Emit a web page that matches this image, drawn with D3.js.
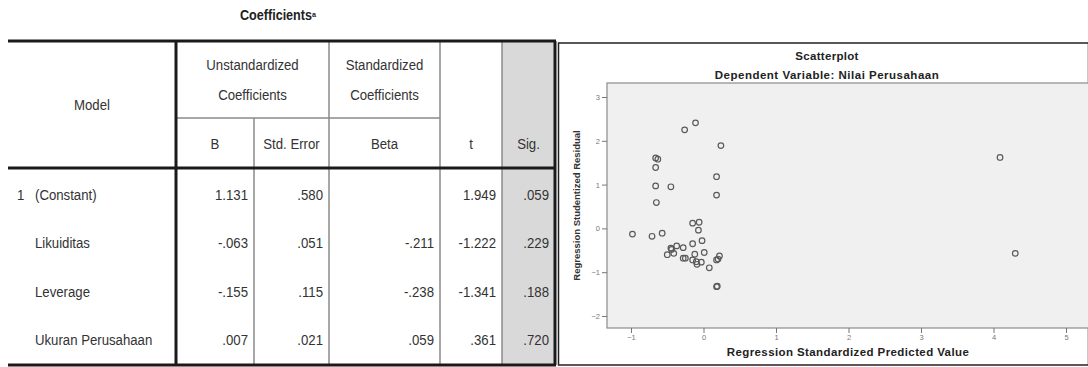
<!DOCTYPE html>
<html>
<head>
<meta charset="utf-8">
<script src="https://cdn.jsdelivr.net/npm/d3@7"></script>
<style>
  body { margin: 0; background: #fff; }
  svg { display: block; }
</style>
</head>
<body>
<div id="chart"></div>
<script>
// Table values
const modelRows = ["(Constant)", "Likuiditas", "Leverage", "Ukuran Perusahaan"];
const colB = ["1.131", "-.063", "-.155", ".007"];
const colStdErr = [".580", ".051", ".115", ".021"];
const colBeta = ["", "-.211", "-.238", ".059"];
const colT = ["1.949", "-1.222", "-1.341", ".361"];
const colSig = [".059", ".229", ".188", ".720"];

// Scatter values (standardized predicted, studentized residual)
const predicted = [-0.11, -0.26, 0.24, -0.66, -0.63, -0.66, 0.18, -0.66, -0.45, 0.18, -0.65, 4.09,
  -0.98, -0.71, -0.57, -0.15, -0.06, -0.07, -0.15, -0.02, -0.37, -0.45, -0.44, -0.28, -0.50, -0.41,
  -0.28, -0.25, -0.12, 0.01, -0.15, -0.10, -0.03, -0.09, 0.08, 0.22, 0.18, 0.20, 0.18, 0.19, 4.30];
const residual = [2.41, 2.25, 1.89, 1.61, 1.58, 1.39, 1.18, 0.97, 0.95, 0.76, 0.59, 1.62,
  -0.13, -0.18, -0.11, 0.12, 0.14, -0.04, -0.35, -0.28, -0.40, -0.45, -0.48, -0.44, -0.60, -0.57,
  -0.68, -0.68, -0.59, -0.55, -0.72, -0.76, -0.77, -0.82, -0.90, -0.63, -0.72, -0.70, -1.33, -1.32, -0.57];
const xTicks = [-1, 0, 1, 2, 3, 4, 5];
const yTicks = [-2, -1, 0, 1, 2, 3];

const W = 1088, H = 367;
const font = "'Liberation Sans', Arial, sans-serif";

const svg = d3.select("#chart").append("svg")
  .attr("width", W)
  .attr("height", H);

// ---------- Coefficients table ----------
const tbl = svg.append("g").attr("font-family", font).attr("fill", "#333");

// column edges and row positions
const cx = { left: 8, model: 176, b: 254, se: 329, beta: 440, t: 502, right: 555 };
const tTop = 41, midH = 118, headBot = 168, tBottom = 365;
const rowBase = [200, 248, 297, 345];

// SPSS tables use a condensed face: squeeze regular glyphs horizontally
const cell = (sel, xf, yf, anchor) => sel
  .attr("transform", (d, i) => `translate(${xf(d, i)},${yf(d, i)}) scale(0.88,1)`)
  .attr("text-anchor", anchor)
  .attr("font-size", "15px");

// Sig. column shading
tbl.append("rect")
  .attr("x", cx.t).attr("y", tTop)
  .attr("width", cx.right - cx.t).attr("height", tBottom - tTop)
  .attr("fill", "#d9d9d9");

tbl.append("text")
  .attr("transform", "translate(278,20) scale(0.9,1)")
  .attr("text-anchor", "middle")
  .attr("font-weight", "bold")
  .attr("font-size", "14px")
  .attr("fill", "#222")
  .text("Coefficients")
  .append("tspan")
  .attr("font-size", "8px")
  .attr("dy", -3)
  .text("a");

// thin grey lines
const thin = [
  [cx.b, midH, cx.b, tBottom],
  [cx.se, tTop, cx.se, tBottom],
  [cx.beta, tTop, cx.beta, tBottom],
  [cx.t, tTop, cx.t, tBottom],
  [cx.model, midH, cx.beta, midH]
];
tbl.selectAll(".thin").data(thin).enter().append("line")
  .attr("x1", d => d[0]).attr("y1", d => d[1])
  .attr("x2", d => d[2]).attr("y2", d => d[3])
  .attr("stroke", "#8a8a8a").attr("stroke-width", 1.5);

// thick dark lines
const thick = [
  [cx.left, tTop, cx.right + 1, tTop],
  [cx.left, headBot, cx.right, headBot],
  [cx.left, tBottom, cx.right + 1, tBottom],
  [cx.model, tTop, cx.model, tBottom],
  [cx.right, tTop, cx.right, tBottom]
];
tbl.selectAll(".thick").data(thick).enter().append("line")
  .attr("x1", d => d[0]).attr("y1", d => d[1])
  .attr("x2", d => d[2]).attr("y2", d => d[3])
  .attr("stroke", "#1a1a1a").attr("stroke-width", 3);

// header text
const hdr = [
  ["Model", (cx.left + cx.model) / 2, 110],
  ["Unstandardized", (cx.model + cx.se) / 2, 70],
  ["Coefficients", (cx.model + cx.se) / 2, 100],
  ["Standardized", (cx.se + cx.beta) / 2, 70],
  ["Coefficients", (cx.se + cx.beta) / 2, 100],
  ["B", (cx.model + cx.b) / 2, 149],
  ["Std. Error", (cx.b + cx.se) / 2, 149],
  ["Beta", (cx.se + cx.beta) / 2, 149],
  ["t", (cx.beta + cx.t) / 2, 149],
  ["Sig.", (cx.t + cx.right) / 2, 149]
];
cell(tbl.selectAll(".hdr").data(hdr).enter().append("text"), d => d[1], d => d[2], "middle")
  .text(d => d[0]);

// body
cell(tbl.selectAll(".one").data(["1"]).enter().append("text"), () => 17, () => rowBase[0], "start")
  .text(d => d);
cell(tbl.selectAll(".mrow").data(modelRows).enter().append("text"), () => 35, (d, i) => rowBase[i], "start")
  .text(d => d);

const numCols = [[colB, cx.b], [colStdErr, cx.se], [colBeta, cx.beta], [colT, cx.t], [colSig, cx.right]];
numCols.forEach(([vals, edge]) => {
  cell(tbl.selectAll(null).data(vals).enter().append("text"), () => edge - 6, (d, i) => rowBase[i], "end")
    .text(d => d);
});

// ---------- Scatterplot ----------
const p = svg.append("g").attr("font-family", font);

p.append("rect")
  .attr("x", 558.5).attr("y", 43)
  .attr("width", W - 558).attr("height", 322)
  .attr("fill", "#fff").attr("stroke", "#222").attr("stroke-width", 1.5);

const plot = { left: 607, top: 83, right: 1087, bottom: 328 };

p.append("text")
  .attr("x", 827).attr("y", 60)
  .attr("text-anchor", "middle").attr("font-weight", "bold")
  .attr("font-size", "11.5px").attr("fill", "#222")
  .attr("letter-spacing", "0.3px")
  .text("Scatterplot");
p.append("text")
  .attr("x", 827).attr("y", 79)
  .attr("text-anchor", "middle").attr("font-weight", "bold")
  .attr("font-size", "11.5px").attr("fill", "#222")
  .attr("letter-spacing", "0.5px")
  .text("Dependent Variable: Nilai Perusahaan");

p.append("rect")
  .attr("x", plot.left).attr("y", plot.top)
  .attr("width", plot.right - plot.left + 4).attr("height", plot.bottom - plot.top)
  .attr("fill", "#f0f0f0").attr("stroke", "#8c8c8c").attr("stroke-width", 1.2);

const x = d3.scaleLinear().domain([-1, 5]).range([631, 1066]);
const y = d3.scaleLinear().domain([-2, 3]).range([316, 97]);

const yAxis = p.append("g")
  .attr("transform", `translate(${plot.left},0)`)
  .call(d3.axisLeft(y).tickValues(yTicks).tickSize(5).tickPadding(2).tickFormat(d3.format("d")));
const xAxis = p.append("g")
  .attr("transform", `translate(0,${plot.bottom})`)
  .call(d3.axisBottom(x).tickValues(xTicks).tickSize(5).tickPadding(2).tickFormat(d3.format("d")));
[xAxis, yAxis].forEach(a => {
  a.select(".domain").remove();
  a.selectAll(".tick line").attr("stroke", "#777");
  a.selectAll(".tick text").attr("fill", "#777").attr("font-size", "7.5px").attr("font-family", font);
});

p.append("text")
  .attr("transform", `translate(580,${(plot.top + plot.bottom) / 2}) rotate(-90)`)
  .attr("text-anchor", "middle").attr("font-weight", "bold")
  .attr("font-size", "9.5px").attr("fill", "#333")
  .text("Regression Studentized Residual");

p.append("text")
  .attr("x", 848).attr("y", 356)
  .attr("text-anchor", "middle").attr("font-weight", "bold")
  .attr("font-size", "11.5px").attr("fill", "#222")
  .attr("letter-spacing", "0.4px")
  .text("Regression Standardized Predicted Value");

p.selectAll(".pt").data(predicted).enter().append("circle")
  .attr("cx", d => x(d))
  .attr("cy", (d, i) => y(residual[i]))
  .attr("r", 2.8)
  .attr("fill", "none")
  .attr("stroke", "#5a5a5a")
  .attr("stroke-width", 1.2);
</script>
</body>
</html>
